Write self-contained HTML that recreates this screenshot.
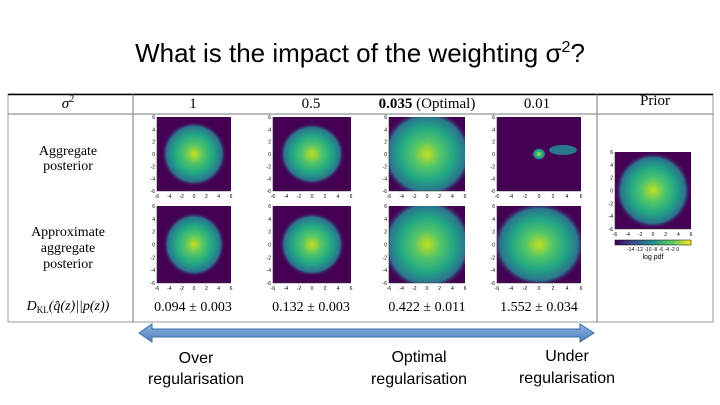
<!DOCTYPE html>
<html><head><meta charset="utf-8"><style>
body{margin:0;width:720px;height:405px;background:#fff;overflow:hidden;font-family:"Liberation Sans",sans-serif}
svg{position:absolute;left:0;top:0}
</style></head><body>
<svg width="720" height="405">
<defs>
<radialGradient id="vir2" cx="0.5" cy="0.5" r="0.5">
<stop offset="0" stop-color="#c2df23"/><stop offset="0.3" stop-color="#52c569"/><stop offset="0.6" stop-color="#21a685"/><stop offset="0.85" stop-color="#2c728e"/><stop offset="1" stop-color="#440154" stop-opacity="0"/>
</radialGradient>
<linearGradient id="cbar" x1="0" x2="1"><stop offset="0" stop-color="#440154"/><stop offset="0.25" stop-color="#3b528b"/><stop offset="0.5" stop-color="#21918c"/><stop offset="0.75" stop-color="#5ec962"/><stop offset="1" stop-color="#fde725"/></linearGradient>
<linearGradient id="arr" x1="0" x2="0" y1="0" y2="1"><stop offset="0" stop-color="#8fb4e3"/><stop offset="1" stop-color="#4f81bd"/></linearGradient>
</defs>
<text x="360" y="62" font-size="26" text-anchor="middle" fill="#000">What is the impact of the weighting σ<tspan font-size="16" dy="-10">2</tspan><tspan dy="10">?</tspan></text>
<g font-family="Liberation Serif,serif" fill="#000">
<rect x="8" y="94" width="705" height="228" fill="none" stroke="#999" stroke-width="1"/>
<line x1="8" y1="94.5" x2="713" y2="94.5" stroke="#000" stroke-width="1.5"/>
<line x1="8" y1="114" x2="713" y2="114" stroke="#777"/>
<line x1="133" y1="94" x2="133" y2="322" stroke="#777"/>
<line x1="597" y1="94" x2="597" y2="322" stroke="#777"/>
<text x="68" y="108" font-size="15" text-anchor="middle" font-style="italic">σ<tspan font-size="10" dy="-6" font-style="normal">2</tspan></text>
<text x="193" y="108" font-size="15" text-anchor="middle">1</text>
<text x="311" y="108" font-size="15" text-anchor="middle">0.5</text>
<text x="427" y="108" font-size="15" text-anchor="middle"><tspan font-weight="bold">0.035</tspan> (Optimal)</text>
<text x="537" y="108" font-size="15" text-anchor="middle">0.01</text>
<text x="655" y="105" font-size="15" text-anchor="middle">Prior</text>
<text x="68" y="155" font-size="14" text-anchor="middle">Aggregate</text>
<text x="68" y="170" font-size="14" text-anchor="middle">posterior</text>
<text x="68" y="236" font-size="14" text-anchor="middle">Approximate</text>
<text x="68" y="252" font-size="14" text-anchor="middle">aggregate</text>
<text x="68" y="268" font-size="14" text-anchor="middle">posterior</text>
<text x="68" y="310" font-size="14" text-anchor="middle" font-style="italic">D<tspan font-size="9" dy="3" font-style="normal">KL</tspan><tspan dy="-3">(q̂(z)||p(z))</tspan></text>
<g id="dkl" font-size="14" text-anchor="middle"></g>
<g id="maps"></g>
</g>
<g>
<path d="M139 333 L152 324 L152 329 L580 329 L580 324 L594 333 L580 342 L580 337 L152 337 L152 342 Z" fill="url(#arr)" stroke="#3a6ea5" stroke-width="1"/>
</g>
<g font-size="16" text-anchor="middle" fill="#000">
<text x="196" y="363">Over</text>
<text x="196" y="384">regularisation</text>
<text x="419" y="362">Optimal</text>
<text x="419" y="384">regularisation</text>
<text x="567" y="361">Under</text>
<text x="567" y="383">regularisation</text>
</g>
</svg>
<script>
const dklLabels=["0.094 ± 0.003","0.132 ± 0.003","0.422 ± 0.011","1.552 ± 0.034"];
const colCenters=[193,311,427,539];
const panelX=[157,273,389,497];
const panelW=[74,78,76,84];
const rowY=[117,206];
const rowH=[74,77];
const blobR=[[0.44,0.42,0.6,0.08],[0.42,0.42,0.6,0.55]];
const NS="http://www.w3.org/2000/svg";
const dkl=document.getElementById('dkl');
dklLabels.forEach((t,i)=>{const e=document.createElementNS(NS,'text');e.setAttribute('x',colCenters[i]);e.setAttribute('y',311);e.textContent=t;


dkl.appendChild(e);});
const maps=document.getElementById('maps');
function panel(x,y,w,h,r,name){
 const g=document.createElementNS(NS,'g');
 
 
 const bg=document.createElementNS(NS,'rect');bg.setAttribute('x',x);bg.setAttribute('y',y);bg.setAttribute('width',w);bg.setAttribute('height',h);bg.setAttribute('fill','#440154');g.appendChild(bg);
 const clip=document.createElementNS(NS,'svg');clip.setAttribute('x',x);clip.setAttribute('y',y);clip.setAttribute('width',w);clip.setAttribute('height',h);g.appendChild(clip);
 if(r>0){const c=document.createElementNS(NS,'ellipse');c.setAttribute('cx',w/2);c.setAttribute('cy',h/2);c.setAttribute('rx',w*r);c.setAttribute('ry',h*r);c.setAttribute('fill','url(#vir2)');clip.appendChild(c);}
 const ax=document.createElementNS(NS,'path');ax.setAttribute('d',`M${x} ${y} V${y+h} H${x+w}`);ax.setAttribute('stroke','#333');ax.setAttribute('fill','none');ax.setAttribute('stroke-width','0.6');g.appendChild(ax);
 ["-6","-4","-2","0","2","4","6"].forEach((t,k)=>{
  const tx=document.createElementNS(NS,'text');tx.setAttribute('x',x+k*w/6);tx.setAttribute('y',y+h+7);tx.setAttribute('font-size','5');tx.setAttribute('text-anchor','middle');tx.setAttribute('font-family','Liberation Sans,sans-serif');tx.textContent=t;g.appendChild(tx);
  const ty=document.createElementNS(NS,'text');ty.setAttribute('x',x-2);ty.setAttribute('y',y+h-k*h/6+2);ty.setAttribute('font-size','5');ty.setAttribute('text-anchor','end');ty.setAttribute('font-family','Liberation Sans,sans-serif');ty.textContent=t;g.appendChild(ty);
 });
 maps.appendChild(g);
 return clip;
}
for(let r=0;r<2;r++)for(let c=0;c<4;c++){const cl=panel(panelX[c],rowY[r],panelW[c],rowH[r],blobR[r][c],'heatmap-r'+r+'-c'+c);
 if(r==0&&c==3){const e=document.createElementNS(NS,'ellipse');e.setAttribute('cx',66);e.setAttribute('cy',33);e.setAttribute('rx',14);e.setAttribute('ry',5);e.setAttribute('fill','#2a788e');cl.appendChild(e);}}
panel(615,152,76,77,0.5,'prior-heatmap');
const cb=document.createElementNS(NS,'rect');cb.setAttribute('x',615);cb.setAttribute('y',240);cb.setAttribute('width',76);cb.setAttribute('height',5);cb.setAttribute('fill','url(#cbar)');cb.setAttribute('stroke','#000');cb.setAttribute('stroke-width','0.5');


maps.appendChild(cb);
const cbl=document.createElementNS(NS,'text');cbl.setAttribute('x',653);cbl.setAttribute('y',251);cbl.setAttribute('font-size','5');cbl.setAttribute('text-anchor','middle');cbl.setAttribute('font-family','Liberation Sans,sans-serif');cbl.textContent='-14 -12 -10 -8 -6 -4 -2 0';


maps.appendChild(cbl);
const lp=document.createElementNS(NS,'text');lp.setAttribute('x',653);lp.setAttribute('y',259);lp.setAttribute('font-size','7');lp.setAttribute('text-anchor','middle');lp.setAttribute('font-family','Liberation Sans,sans-serif');lp.textContent='log pdf';


maps.appendChild(lp);
</script>
</body></html>
